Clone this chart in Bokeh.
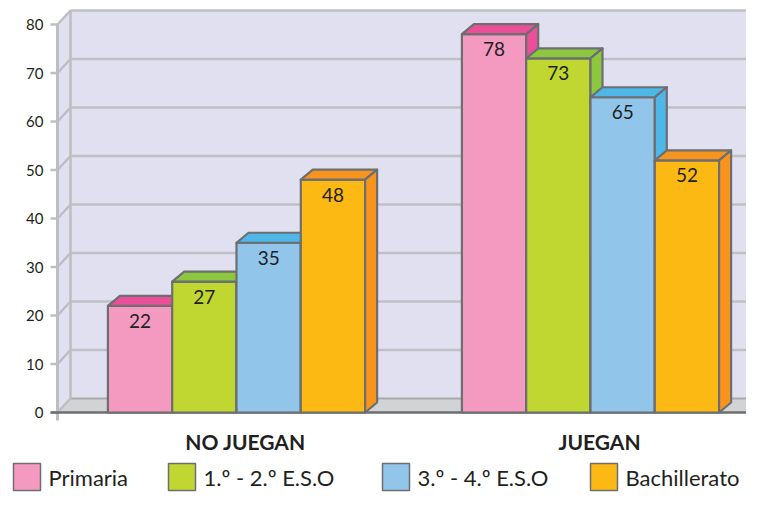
from bokeh.plotting import figure
from bokeh.models import Range1d
from bokeh.embed import file_html
from bokeh.resources import INLINE
from bokeh.core.properties import value

# ---------------- data ----------------
groups = ["NO JUEGAN", "JUEGAN"]
series = ["Primaria", "1.º - 2.º E.S.O", "3.º - 4.º E.S.O", "Bachillerato"]
primaria = [22, 78]
eso_1_2 = [27, 73]
eso_3_4 = [35, 65]
bachillerato = [48, 52]
y_ticks = [0, 10, 20, 30, 40, 50, 60, 70, 80]

values_by_series = [primaria, eso_1_2, eso_3_4, bachillerato]

# ---------------- style ----------------
front_colors = ["#F49AC1", "#BFD730", "#92C5EA", "#FDB913"]
dark_colors = ["#EC4F9A", "#8DC63F", "#4FB6E8", "#F7941D"]
outline = "#6D6E71"
wall = "#E0E0F0"
floor_c = "#D1D3D4"
grid_c = "#BFC0C6"
axis_c = "#BCBEC0"
text_c = "#231F20"
FONT = "Lato"

W, H = 746, 493
PX_X = 354.0   # px per group unit
PX_Y = 4.85    # px per value unit


def X(px):
    # canvas px -> x data (group 0 front centre at 0)
    return (px - 236.0) / PX_X


def Y(py):
    return (412.0 - py) / PX_Y


def dx(px):
    return px / PX_X


def dy(px):
    return px / PX_Y


p = figure(width=W, height=H, output_backend="svg", toolbar_location=None,
           x_range=Range1d(X(0), X(W)), y_range=Range1d(Y(H), Y(0)),
           min_border=0)
p.axis.visible = False
p.grid.visible = False
p.outline_line_color = None
p.background_fill_color = "white"
p.border_fill_color = "white"

AX = X(57)            # front axis position
WDX, WDY = dx(13), dy(14)   # wall depth
XR = X(W) + 0.05
vmax = y_ticks[-1]

# walls
p.patch([AX + WDX, XR, XR, AX + WDX], [WDY, WDY, vmax + WDY, vmax + WDY],
        fill_color=wall, line_color=None)
p.patch([AX, AX, AX + WDX, AX + WDX], [0, vmax, vmax + WDY, WDY],
        fill_color=wall, line_color=None)
# floor
p.patch([AX, XR, XR, AX + WDX], [0, 0, WDY, WDY], fill_color=floor_c, line_color=None)

# back gridlines
p.multi_line([[AX + WDX, XR] for v in y_ticks[1:]],
             [[v + WDY, v + WDY] for v in y_ticks[1:]], line_color=grid_c, line_width=2.5)
p.line([AX + WDX, XR], [WDY, WDY], line_color="#A7A9AC", line_width=2)
# side diagonals
p.multi_line([[AX, AX + WDX] for v in y_ticks], [[v, v + WDY] for v in y_ticks],
             line_color=axis_c, line_width=2.5)
# back vertical
p.line([AX + WDX, AX + WDX], [WDY, vmax + WDY], line_color=axis_c, line_width=2.5)
# front axis
p.line([AX, AX], [-dy(8), vmax], line_color=axis_c, line_width=3)
# ticks
p.multi_line([[AX - dx(7), AX] for v in y_ticks], [[v, v] for v in y_ticks],
             line_color=axis_c, line_width=2.5)
# front baseline
p.line([AX - dx(7), XR], [0, 0], line_color=outline, line_width=2.5)

# tick labels
p.text(x=[AX - dx(14)] * len(y_ticks), y=y_ticks, text=[str(t) for t in y_ticks],
       text_align="right", text_baseline="middle", text_font=value(FONT),
       text_font_size="15px", text_color=text_c)

# bars
BW = dx(64.3)
BDX, BDY = dx(12), dy(10)
n = len(series)
for g in range(len(groups)):
    for i in range(n):
        v = values_by_series[i][g]
        l = g - (n / 2) * BW + i * BW
        r = l + BW
        p.quad(left=[l], right=[r], bottom=[0], top=[v], fill_color=front_colors[i],
               line_color=outline, line_width=2.2, line_join="round")
        p.patch([l, l + BDX, r + BDX, r], [v, v + BDY, v + BDY, v],
                fill_color=dark_colors[i], line_color=outline, line_width=2.2,
                line_join="round")
        p.patch([r, r, r + BDX, r + BDX], [0, v, v + BDY, BDY],
                fill_color=dark_colors[i], line_color=outline, line_width=2.2,
                line_join="round")
        p.text(x=[(l + r) / 2], y=[v - dy(15)], text=[str(v)], text_align="center",
               text_baseline="middle", text_font=value(FONT), text_font_size="19px",
               text_color=text_c)

# category labels
p.text(x=[g + dx(9) for g in range(len(groups))], y=[Y(441)] * len(groups), text=groups,
       text_align="center", text_baseline="middle", text_font=value(FONT),
       text_font_size="21px", text_font_style="bold", text_color=text_c)

# legend
legend_left_px = [13, 168, 382, 590]
for i, name in enumerate(series):
    lx = legend_left_px[i]
    p.quad(left=[X(lx)], right=[X(lx + 27)], top=[Y(463)], bottom=[Y(490)],
           fill_color=front_colors[i], line_color=outline, line_width=1.5)
    p.text(x=[X(lx + 35)], y=[Y(477)], text=[name], text_align="left",
           text_baseline="middle", text_font=value(FONT), text_font_size="22px",
           text_color=text_c)

open("out.html", "w").write(file_html(p, INLINE))
